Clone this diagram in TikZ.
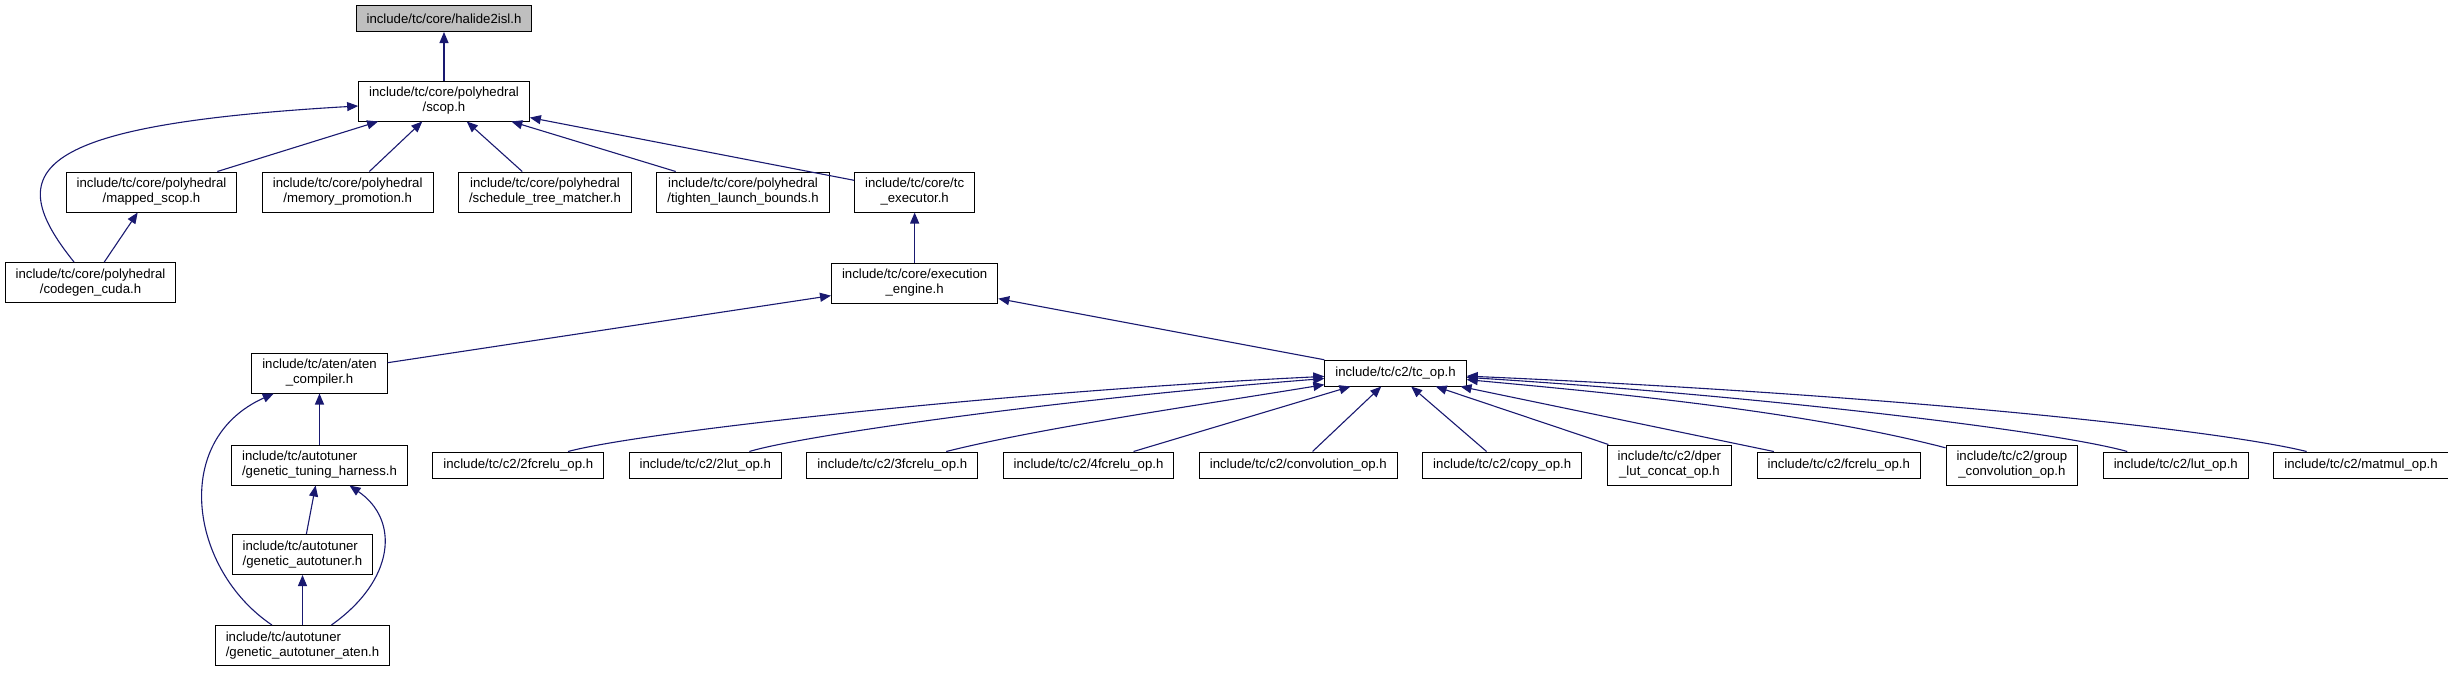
\documentclass[tikz,border=0pt]{standalone}
\usepackage{fontspec}
\setmainfont{Liberation Sans}
\usepackage{tikz}
\usetikzlibrary{arrows.meta, positioning}

\definecolor{edgeblue}{RGB}{25,25,112}
\definecolor{curgray}{RGB}{191,191,191}

\begin{document}
\begin{tikzpicture}[
    x=1pt, y=-1pt,
    node distance=50pt and 24.5pt,
    every node/.style={font=\fontsize{13.2}{15}\selectfont},
    box/.style={rectangle, draw=black, line width=1pt, fill=white,
                align=center, inner xsep=10.5pt, inner ysep=2pt,
                minimum height=26pt},
    twobox/.style={box, minimum height=40pt},
    curbox/.style={box, fill=curgray},
    arr/.style={-{Triangle[length=11pt,width=9pt]}, draw=edgeblue,
                line width=1.1pt},
]
\useasboundingbox (0,0) rectangle (2448,672);

\node[curbox] (halide) at (444,18.5) {include/tc/core/halide2isl.h};
\node[twobox] (scop)   at (444,101)  {include/tc/core/polyhedral\\/scop.h};

\node[twobox] (mapped) at (151.5,192) {include/tc/core/polyhedral\\/mapped\_scop.h};
\node[twobox, right=of mapped]  (memprom)  {include/tc/core/polyhedral\\/memory\_promotion.h};
\node[twobox, right=of memprom] (stmatch)  {include/tc/core/polyhedral\\/schedule\_tree\_matcher.h};
\node[twobox, right=of stmatch] (tighten)  {include/tc/core/polyhedral\\/tighten\_launch\_bounds.h};
\node[twobox, right=of tighten] (executor) {include/tc/core/tc\\\_executor.h};

\node[twobox] (codegen) at (90.5,282.5) {include/tc/core/polyhedral\\/codegen\_cuda.h};
\node[twobox, below=of executor] (engine) {include/tc/core/execution\\\_engine.h};

\node[twobox] (atencomp) at (319.5,373) {include/tc/aten/aten\\\_compiler.h};
\node[box]    (tcop)     at (1395.5,373) {include/tc/c2/tc\_op.h};

\node[twobox, align=left, below=51pt of atencomp] (harness) {include/tc/autotuner\\/genetic\_tuning\_harness.h};
\node[box, right=of harness]    (twofc)     {include/tc/c2/2fcrelu\_op.h};
\node[box, right=of twofc]      (twolut)    {include/tc/c2/2lut\_op.h};
\node[box, right=of twolut]     (threefc)   {include/tc/c2/3fcrelu\_op.h};
\node[box, right=of threefc]    (fourfc)    {include/tc/c2/4fcrelu\_op.h};
\node[box, right=of fourfc]     (conv)      {include/tc/c2/convolution\_op.h};
\node[box, right=of conv]       (copyop)    {include/tc/c2/copy\_op.h};
\node[twobox, right=of copyop]  (dper)      {include/tc/c2/dper\\\_lut\_concat\_op.h};
\node[box, right=of dper]       (fcrelu)    {include/tc/c2/fcrelu\_op.h};
\node[twobox, right=of fcrelu]  (groupconv) {include/tc/c2/group\\\_convolution\_op.h};
\node[box, right=of groupconv]  (lutop)     {include/tc/c2/lut\_op.h};
\node[box, right=of lutop]      (matmul)    {include/tc/c2/matmul\_op.h};

\node[twobox, align=left] (gauto) at (302.5,554.5) {include/tc/autotuner\\/genetic\_autotuner.h};
\node[twobox, align=left, below=of gauto] (gaten) {include/tc/autotuner\\/genetic\_autotuner\_aten.h};

\draw[arr] (scop)     -- (halide);
\draw[arr] (mapped)   -- (scop);
\draw[arr] (memprom)  -- (scop);
\draw[arr] (stmatch)  -- (scop);
\draw[arr] (tighten)  -- (scop);
\draw[arr] (executor) -- (scop);
\draw[arr] (codegen) .. controls (0,170) and (30,125) .. (scop);
\draw[arr] (codegen)  -- (mapped);
\draw[arr] (engine)   -- (executor);
\draw[arr] (atencomp) -- (engine);
\draw[arr] (tcop)     -- (engine);
\draw[arr] (harness)  -- (atencomp);
\draw[arr] (gaten) .. controls (190,570) and (170,440) .. (atencomp);
\draw[arr] (gauto)    -- (harness);
\draw[arr] (gaten)    -- (gauto);
\draw[arr] (gaten) .. controls (395,580) and (400,520) .. (harness);

\draw[arr] (twofc) .. controls (640,432) and (1000,392) .. (tcop);
\draw[arr] (twolut) .. controls (800,436) and (1050,400) .. (tcop);
\draw[arr] (threefc) .. controls (1040,428) and (1200,405) .. (tcop);
\draw[arr] (fourfc)   -- (tcop);
\draw[arr] (conv)     -- (tcop);
\draw[arr] (copyop)   -- (tcop);
\draw[arr] (dper)     -- (tcop);
\draw[arr] (fcrelu)   -- (tcop);
\draw[arr] (groupconv) .. controls (1800,410) and (1600,392) .. (tcop);
\draw[arr] (lutop) .. controls (2050,430) and (1750,395) .. (tcop);
\draw[arr] (matmul) .. controls (2220,430) and (1900,395) .. (tcop);

\end{tikzpicture}
\end{document}
